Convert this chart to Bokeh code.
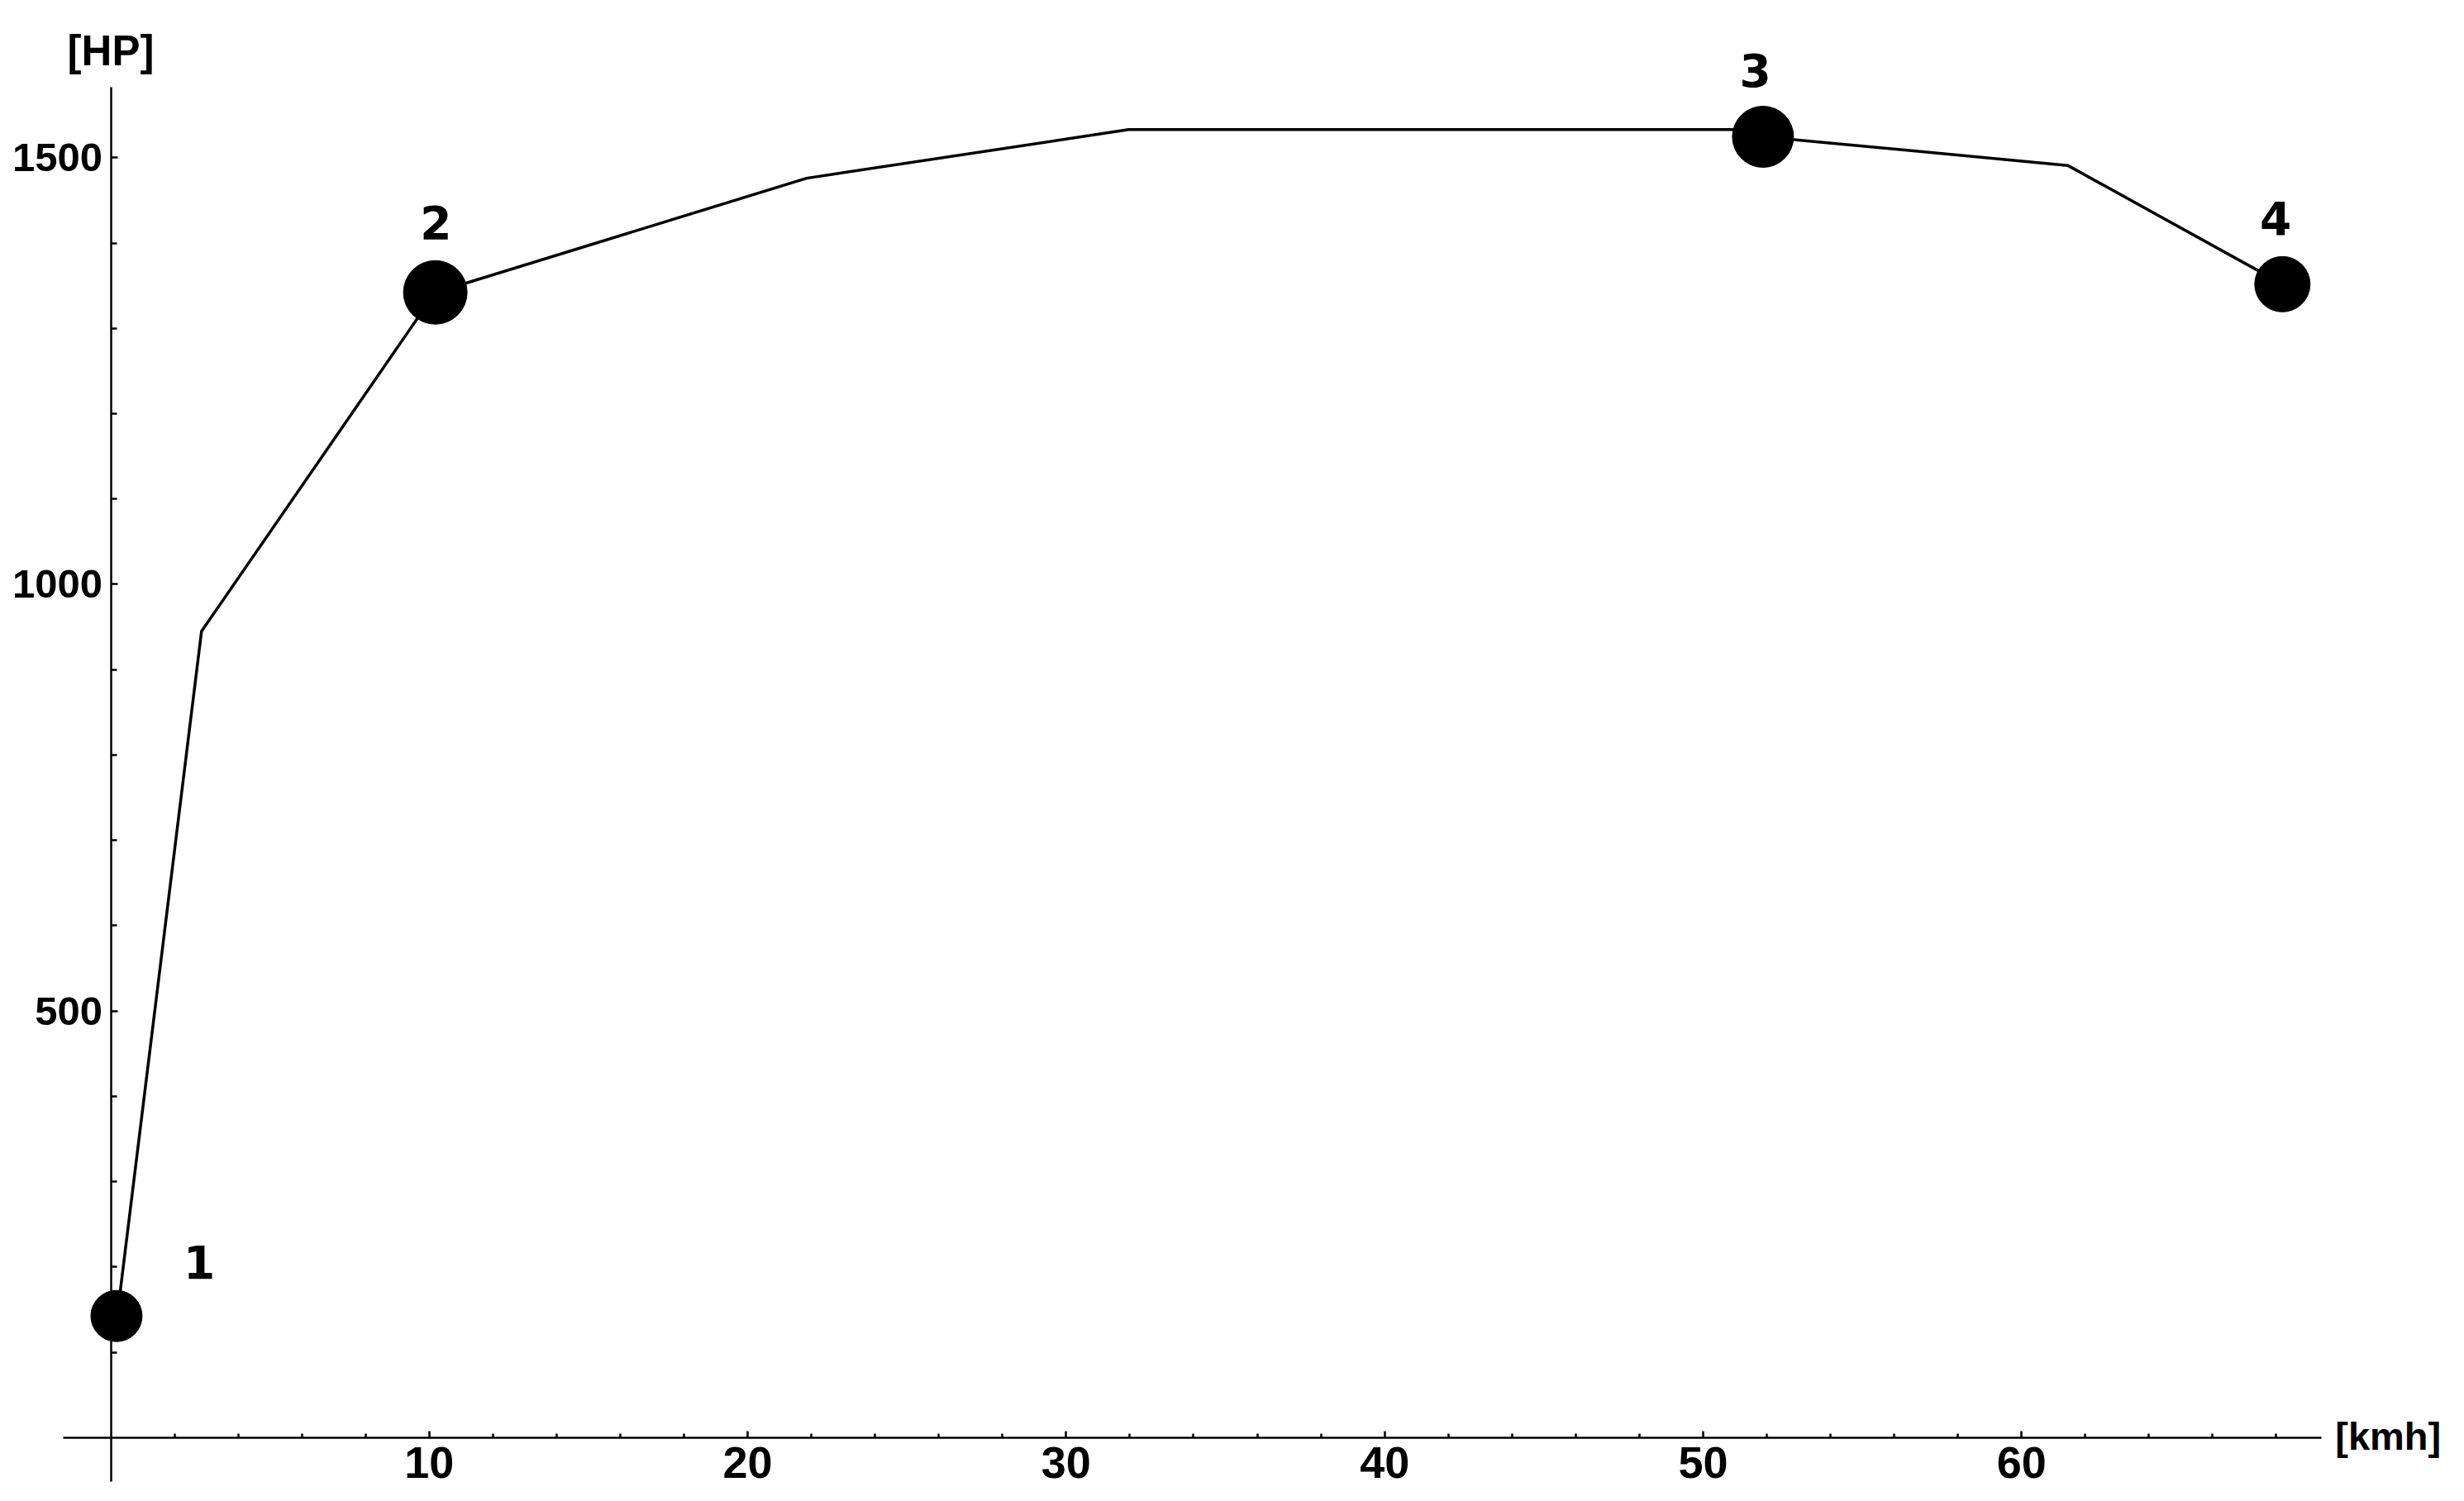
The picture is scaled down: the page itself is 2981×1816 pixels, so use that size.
from bokeh.plotting import figure
from bokeh.models import Range1d, FixedTicker, Label, ColumnDataSource
from bokeh.core.properties import value
from bokeh.embed import file_html
from bokeh.resources import INLINE

# ---- data ----
curve_kmh = [0.2, 2.85, 10.19, 21.85, 31.96, 51.3, 51.88, 61.45, 68.19]
curve_hp = [142, 945, 1342, 1476, 1533, 1533, 1524.6, 1491, 1352]

point_kmh = [0.18, 10.19, 51.88, 68.19]
point_hp = [142.5, 1342.2, 1524.6, 1351.8]
point_size = [62, 77, 74, 67]

label_text = ["1", "2", "3", "4"]
label_kmh = [2.78, 10.21, 51.64, 67.98]
label_hp = [206, 1424, 1603, 1429]

x_major = [10, 20, 30, 40, 50, 60]
x_minor = [2, 4, 6, 8, 12, 14, 16, 18, 22, 24, 26, 28, 32, 34, 36, 38,
           42, 44, 46, 48, 52, 54, 56, 58, 62, 64, 66, 68]
y_major = [500, 1000, 1500]
y_minor = [100, 200, 300, 400, 600, 700, 800, 900, 1100, 1200, 1300, 1400]

# ---- figure ----
p = figure(width=2965, height=1800, output_backend="svg", toolbar_location=None,
           x_range=Range1d(-3.465, 73.49), y_range=Range1d(-59.3, 1684.4),
           min_border=0, outline_line_color=None)
p.background_fill_color = "white"
p.border_fill_color = "white"
p.grid.visible = False

FONT = "Liberation Sans"

xa = p.xaxis[0]
xa.fixed_location = 0
xa.bounds = (-1.49, 69.41)
xa.ticker = FixedTicker(ticks=x_major, minor_ticks=x_minor)
xa.axis_line_width = 2.5
xa.axis_line_color = "black"
xa.major_tick_in = 8
xa.major_tick_out = 0
xa.minor_tick_in = 5
xa.minor_tick_out = 0
xa.major_tick_line_width = 2.5
xa.minor_tick_line_width = 2.5
xa.major_label_text_font = FONT
xa.major_label_text_font_style = "bold"
xa.major_label_text_font_size = "54px"
xa.major_label_text_color = "black"
xa.major_label_standoff = 12

ya = p.yaxis[0]
ya.fixed_location = 0
ya.bounds = (-51.5, 1582.7)
ya.ticker = FixedTicker(ticks=y_major, minor_ticks=y_minor)
ya.axis_line_width = 2.5
ya.axis_line_color = "black"
ya.major_tick_in = 8
ya.major_tick_out = 0
ya.minor_tick_in = 7
ya.minor_tick_out = 0
ya.major_tick_line_width = 2.5
ya.minor_tick_line_width = 2.5
ya.major_label_text_font = FONT
ya.major_label_text_font_style = "bold"
ya.major_label_text_font_size = "49px"
ya.major_label_text_color = "black"
ya.major_label_standoff = 10

# curve
p.line(curve_kmh, curve_hp, line_color="black", line_width=3.5)

# points
p.scatter(point_kmh, point_hp, size=point_size, marker="circle",
          fill_color="black", line_color="black")

# point labels
src = ColumnDataSource(dict(x=label_kmh, y=label_hp, t=label_text))
p.text(x="x", y="y", text="t", source=src, text_align="center",
       text_baseline="alphabetic", text_font=value("DejaVu Sans"),
       text_font_style="bold", text_font_size="55px", text_color="black")

# axis captions
p.add_layout(Label(x=0, y=1625, text="[HP]", text_align="center",
                   text_baseline="alphabetic", text_font=FONT,
                   text_font_style="bold", text_font_size="51px",
                   text_color="black"))
p.add_layout(Label(x=69.85, y=1.5, text="[kmh]", text_align="left",
                   text_baseline="alphabetic", text_font=FONT,
                   text_font_style="bold", text_font_size="47px",
                   text_color="black"))

open("out.html", "w").write(file_html(p, INLINE))
